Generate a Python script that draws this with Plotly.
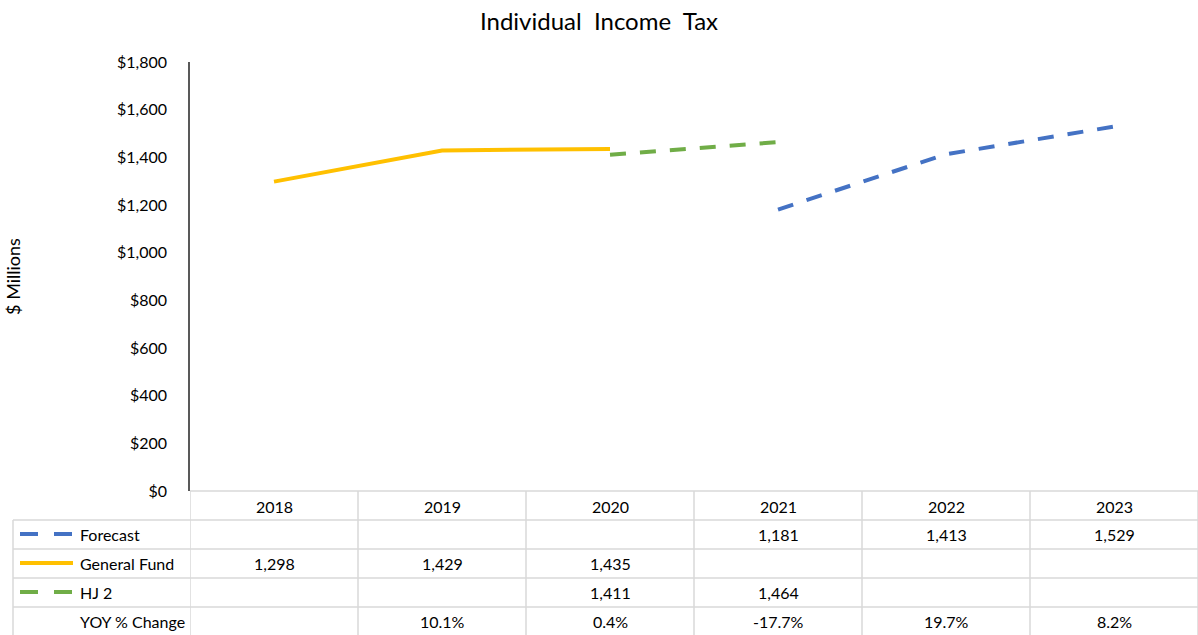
import plotly.graph_objects as go

years = ["2018", "2019", "2020", "2021", "2022", "2023"]
forecast = [None, None, None, 1181, 1413, 1529]
general_fund = [1298, 1429, 1435, None, None, None]
hj2 = [None, None, 1411, 1464, None, None]
yoy_change = ["", "10.1%", "0.4%", "-17.7%", "19.7%", "8.2%"]
y_ticks = [0, 200, 400, 600, 800, 1000, 1200, 1400, 1600, 1800]

W, H = 1198, 635
PL, PR, PT, PB = 190, 0, 62, 144
plot_h = H - PT - PB
plot_w = W - PL - PR

FONT = "Lato, Carlito, Calibri, sans-serif"
GRID = "#d9d9d9"
TXT = "#000000"
BLUE, GOLD, GREEN = "#4472C4", "#FFC000", "#70AD47"
DASH = "16px,14px"


def py(pix):
    """pixel row -> paper y"""
    return (H - PB - pix) / plot_h


def px(pix):
    """pixel column -> paper x"""
    return (pix - PL) / plot_w


xs = list(range(len(years)))
series = [
    ("Forecast", forecast, BLUE, DASH),
    ("General Fund", general_fund, GOLD, "solid"),
    ("HJ 2", hj2, GREEN, DASH),
]

fig = go.Figure()
for name, vals, color, dash in series:
    fig.add_trace(go.Scatter(
        x=xs, y=vals, mode="lines", name=name, connectgaps=False,
        line=dict(color=color, width=4, dash=dash), showlegend=False,
    ))

shapes = []
annotations = []

# table grid
row_tops = [491, 520, 549, 578, 607, 635]
shapes.append(dict(type="line", xref="paper", yref="paper", x0=0, x1=1,
                   y0=py(491), y1=py(491), line=dict(color=GRID, width=1.5)))
for r in row_tops[1:-1]:
    shapes.append(dict(type="line", xref="paper", yref="paper", x0=px(13), x1=1,
                       y0=py(r), y1=py(r), line=dict(color=GRID, width=1.5)))
shapes.append(dict(type="line", xref="paper", yref="paper", x0=px(13), x1=px(13),
                   y0=py(520), y1=py(635), line=dict(color=GRID, width=1.5)))
for i in range(len(years) + 1):
    shapes.append(dict(type="line", xref="x", yref="paper", x0=i - 0.5, x1=i - 0.5,
                       y0=py(491), y1=py(635), line=dict(color=GRID, width=1.5)))

row_centers = [506, 534, 563, 592, 621]
for i, yr in enumerate(years):
    annotations.append(dict(x=i, y=py(row_centers[0]), xref="x", yref="paper",
                            yanchor="middle", text=yr, showarrow=False,
                            font=dict(size=16, color=TXT)))


def fmt(v):
    return "" if v is None else f"{v:,}"


rows = [
    ("Forecast", [fmt(v) for v in forecast], BLUE, DASH),
    ("General Fund", [fmt(v) for v in general_fund], GOLD, "solid"),
    ("HJ 2", [fmt(v) for v in hj2], GREEN, DASH),
    ("YOY % Change", yoy_change, None, None),
]
for k, (label, cells, color, dash) in enumerate(rows):
    yc = py(row_centers[k + 1])
    annotations.append(dict(x=px(78), y=yc, xref="paper", yref="paper", text=label,
                            showarrow=False, xanchor="left", yanchor="middle",
                            font=dict(size=16, color=TXT)))
    if color is not None:
        if dash == "solid":
            shapes.append(dict(type="line", xref="paper", yref="paper", x0=px(20), x1=px(73),
                               y0=yc, y1=yc, line=dict(color=color, width=4)))
        else:
            for a, b in [(20, 38), (54, 72)]:
                shapes.append(dict(type="line", xref="paper", yref="paper", x0=px(a), x1=px(b),
                                   y0=yc, y1=yc, line=dict(color=color, width=4)))
    for i, c in enumerate(cells):
        if c:
            annotations.append(dict(x=i, y=yc, xref="x", yref="paper", text=c,
                                    showarrow=False, yanchor="middle",
                                    font=dict(size=16, color=TXT)))

fig.update_layout(
    width=W, height=H,
    margin=dict(l=PL, r=PR, t=PT, b=PB),
    paper_bgcolor="white", plot_bgcolor="white",
    font=dict(family=FONT, size=15, color=TXT),
    title=dict(text="Individual&nbsp; Income&nbsp; Tax", x=0.5, xanchor="center",
               y=1 - 22 / H, yanchor="middle", font=dict(size=24, color=TXT)),
    xaxis=dict(range=[-0.5, len(years) - 0.5], showticklabels=False, showgrid=False,
               zeroline=False, showline=False, ticks=""),
    yaxis=dict(range=[0, 1800], tickvals=y_ticks,
               ticktext=[f"${v:,}" for v in y_ticks], showgrid=False, zeroline=False,
               showline=True, linecolor="#595959", linewidth=1.5, ticks="",
               ticklabelstandoff=18, tickfont=dict(size=16),
               title=dict(text="$ Millions", font=dict(size=18), standoff=92)),
    shapes=shapes, annotations=annotations,
)

fig.write_html("out.html")
